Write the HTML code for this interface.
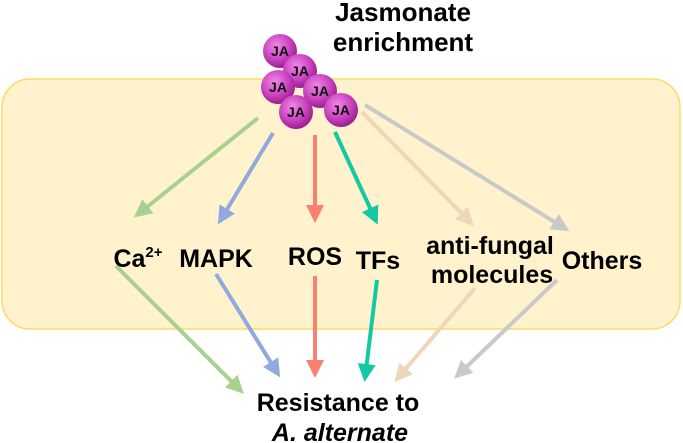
<!DOCTYPE html>
<html><head><style>
body{margin:0;background:#fff;}
svg{display:block;font-family:"Liberation Sans",Arial,sans-serif;font-weight:bold;}
</style></head><body>
<svg width="683" height="443" viewBox="0 0 683 443" xmlns="http://www.w3.org/2000/svg">
<defs>
<radialGradient id="ball" cx="40%" cy="35%" r="65%">
<stop offset="0" stop-color="#f08ae8"/><stop offset="0.6" stop-color="#cc44c0"/><stop offset="1" stop-color="#9a2090"/>
</radialGradient>
<marker id="mg" markerWidth="4.5" markerHeight="4.5" refX="3.5" refY="2.25" orient="auto" markerUnits="strokeWidth"><path d="M0,0 L4.5,2.25 L0,4.5 Z" fill="#a9d18e"/></marker>
<marker id="mb" markerWidth="4.5" markerHeight="4.5" refX="3.5" refY="2.25" orient="auto" markerUnits="strokeWidth"><path d="M0,0 L4.5,2.25 L0,4.5 Z" fill="#8faadc"/></marker>
<marker id="mr" markerWidth="4.5" markerHeight="4.5" refX="3.5" refY="2.25" orient="auto" markerUnits="strokeWidth"><path d="M0,0 L4.5,2.25 L0,4.5 Z" fill="#fa8072"/></marker>
<marker id="mt" markerWidth="4.5" markerHeight="4.5" refX="3.5" refY="2.25" orient="auto" markerUnits="strokeWidth"><path d="M0,0 L4.5,2.25 L0,4.5 Z" fill="#14c8a4"/></marker>
<marker id="mf" markerWidth="4.5" markerHeight="4.5" refX="3.5" refY="2.25" orient="auto" markerUnits="strokeWidth"><path d="M0,0 L4.5,2.25 L0,4.5 Z" fill="#eed6b8"/></marker>
<marker id="mo" markerWidth="4.5" markerHeight="4.5" refX="3.5" refY="2.25" orient="auto" markerUnits="strokeWidth"><path d="M0,0 L4.5,2.25 L0,4.5 Z" fill="#c9c9c9"/></marker>
</defs>
<rect x="2" y="79" width="678" height="250" rx="28" fill="#fff2cc" stroke="#ffd966" stroke-width="1.5"/>
<g stroke-width="4" fill="none">
<line x1="258" y1="118" x2="137" y2="215" stroke="#a9d18e" marker-end="url(#mg)"/>
<line x1="273" y1="133" x2="220" y2="221" stroke="#8faadc" marker-end="url(#mb)"/>
<line x1="315" y1="135" x2="315" y2="219" stroke="#fa8072" marker-end="url(#mr)"/>
<line x1="335" y1="132" x2="376" y2="221" stroke="#14c8a4" marker-end="url(#mt)"/>
<line x1="362" y1="112" x2="471" y2="223" stroke="#eed6b8" marker-end="url(#mf)"/>
<line x1="365" y1="105" x2="566" y2="229" stroke="#c9c9c9" marker-end="url(#mo)"/>
<line x1="116" y1="266" x2="241" y2="391" stroke="#a9d18e" marker-end="url(#mg)"/>
<line x1="216" y1="274" x2="278" y2="374" stroke="#8faadc" marker-end="url(#mb)"/>
<line x1="315" y1="276" x2="315" y2="374" stroke="#fa8072" marker-end="url(#mr)"/>
<line x1="377" y1="280" x2="365" y2="378" stroke="#14c8a4" marker-end="url(#mt)"/>
<line x1="475" y1="288" x2="397" y2="379" stroke="#eed6b8" marker-end="url(#mf)"/>
<line x1="557" y1="280" x2="457" y2="376" stroke="#c9c9c9" marker-end="url(#mo)"/>
</g>
<g font-size="14" text-anchor="middle" fill="#111">
<circle cx="280" cy="51" r="17" fill="url(#ball)"/><text x="280" y="56">JA</text>
<circle cx="300" cy="71" r="17" fill="url(#ball)"/><text x="300" y="76">JA</text>
<circle cx="278" cy="87" r="17" fill="url(#ball)"/><text x="278" y="92">JA</text>
<circle cx="320" cy="91" r="17" fill="url(#ball)"/><text x="320" y="96">JA</text>
<circle cx="296" cy="112" r="17" fill="url(#ball)"/><text x="296" y="117">JA</text>
<circle cx="341" cy="110" r="17" fill="url(#ball)"/><text x="341" y="115">JA</text>
</g>
<g text-anchor="middle" fill="#000" font-size="25">
<text x="403" y="21" font-size="26">Jasmonate</text>
<text x="403" y="51" font-size="26">enrichment</text>
<text x="138" y="267">Ca<tspan font-size="15" dy="-10">2+</tspan></text>
<text x="216" y="267">MAPK</text>
<text x="315" y="265">ROS</text>
<text x="378" y="269">TFs</text>
<text x="490" y="254">anti-fungal</text>
<text x="492" y="283">molecules</text>
<text x="602" y="269">Others</text>
<text x="338" y="411">Resistance to</text>
<text x="340" y="441" font-style="italic">A. alternate</text>
</g>
</svg>
</body></html>
